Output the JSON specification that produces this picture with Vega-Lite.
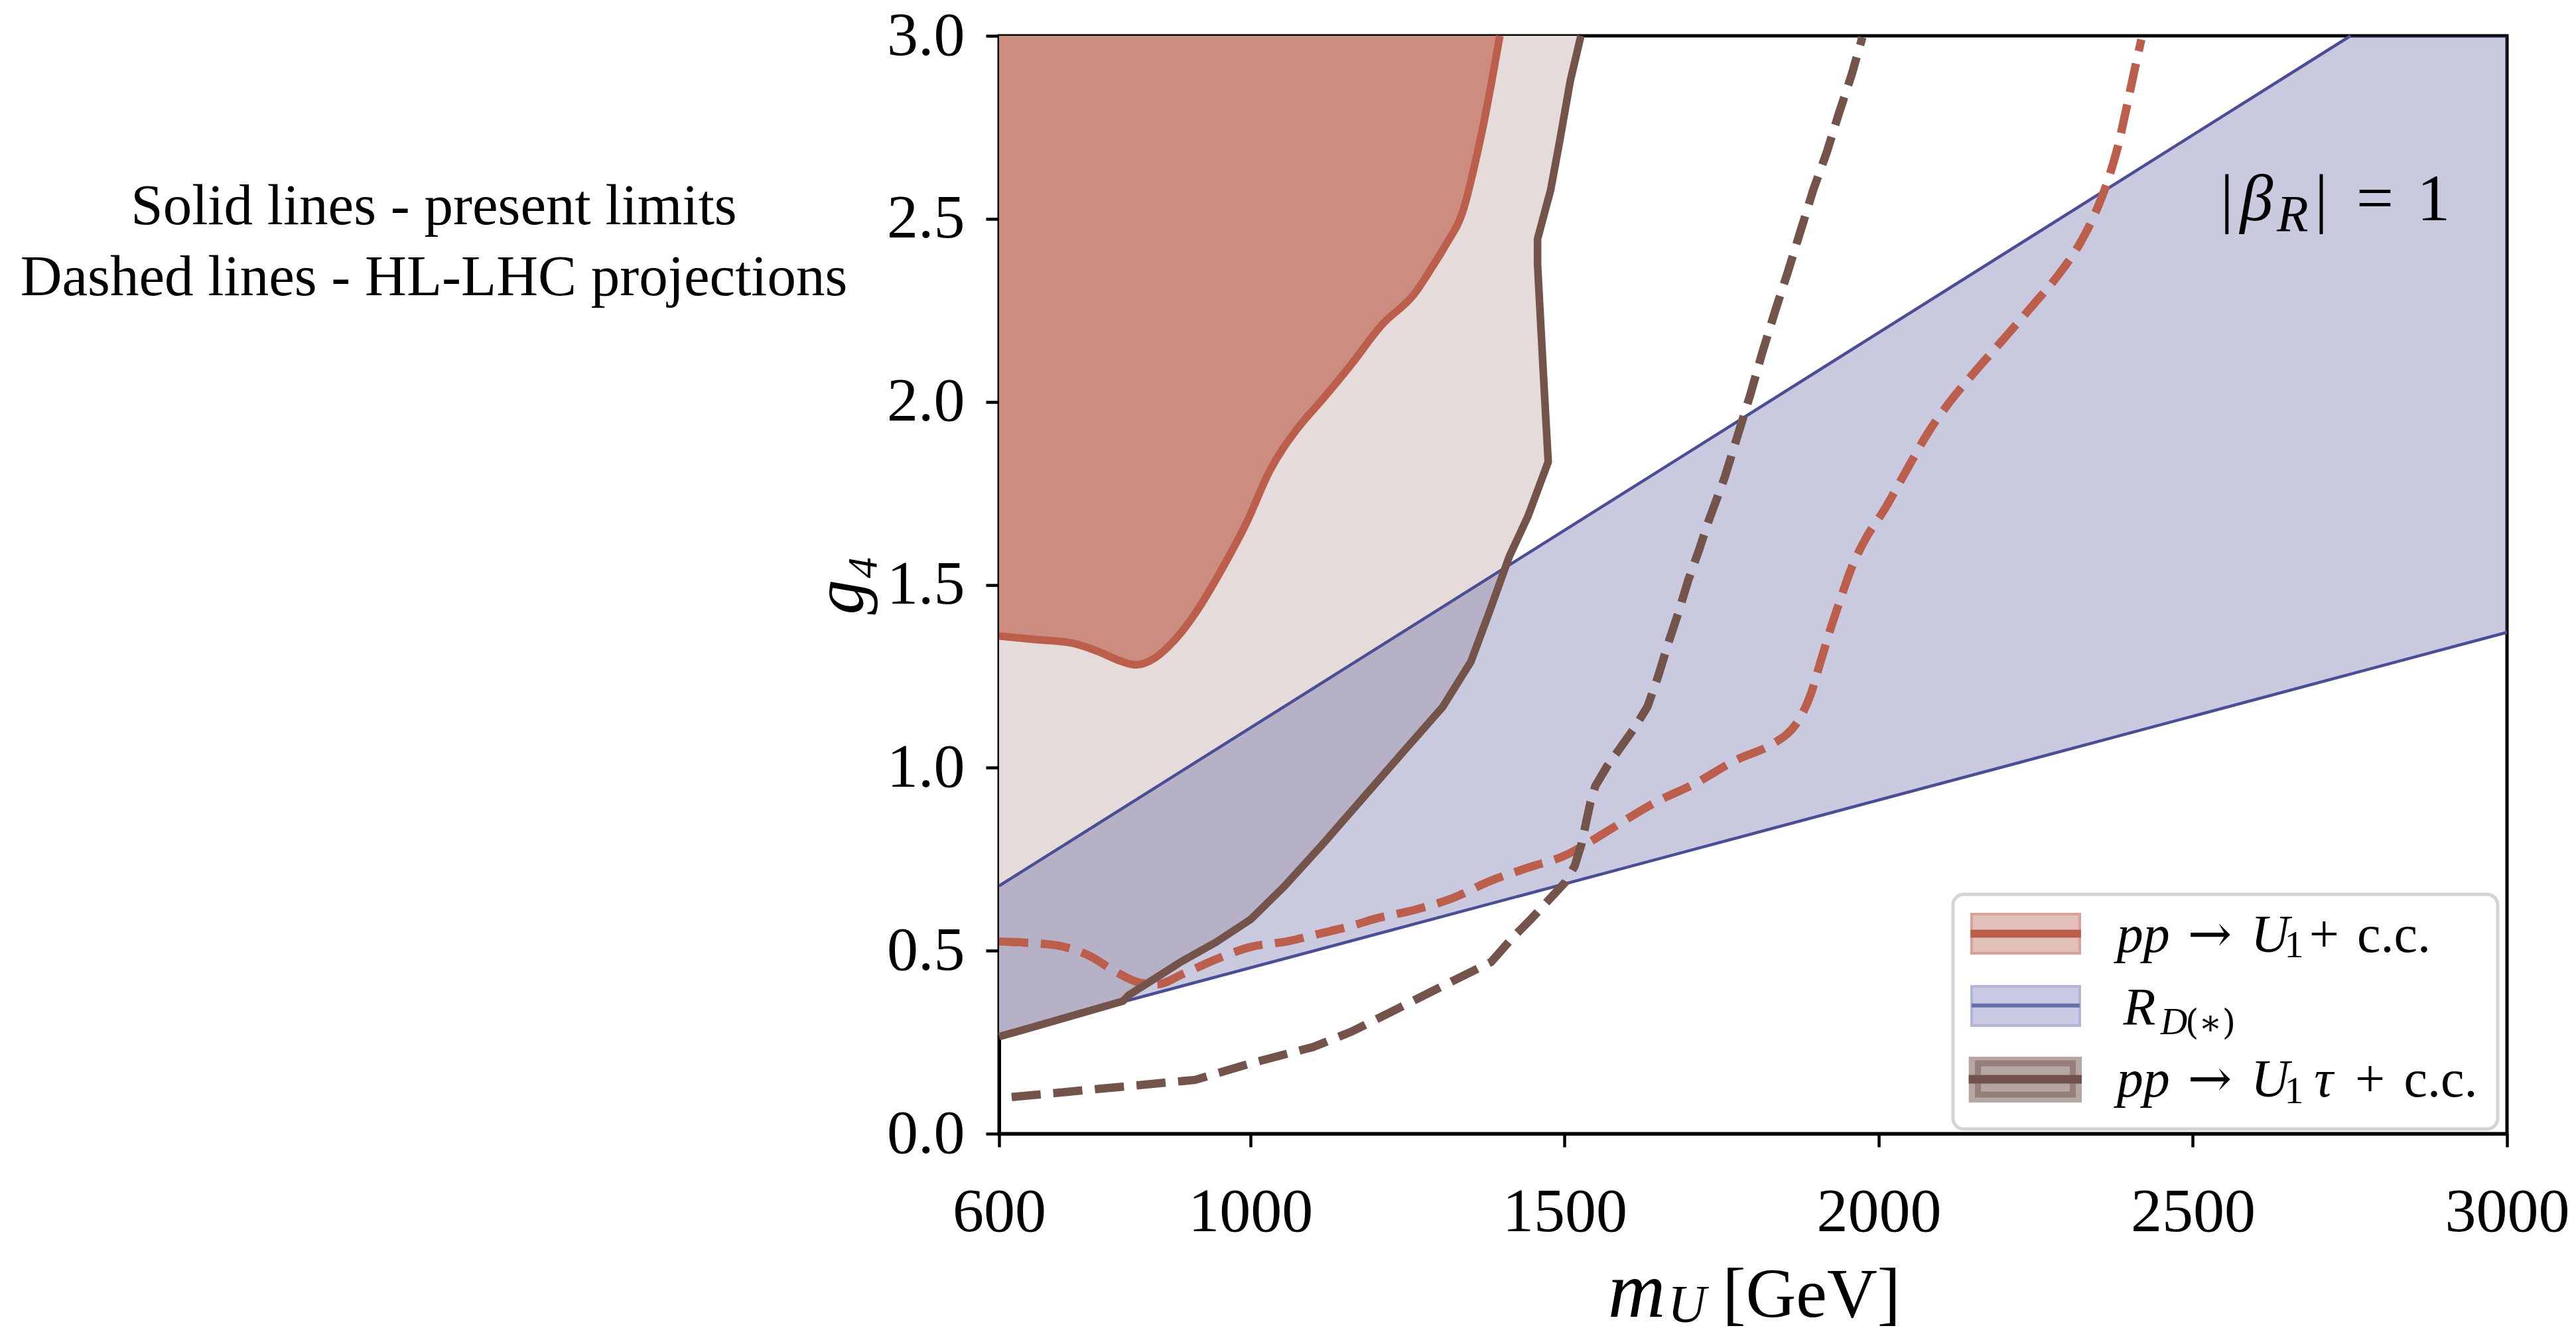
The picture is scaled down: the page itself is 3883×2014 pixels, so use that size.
{
  "$schema": "https://vega.github.io/schema/vega-lite/v6.json",
  "width": 2273,
  "height": 1655,
  "autosize": {"type": "none"},
  "padding": {"left": 1506, "top": 54, "right": 104, "bottom": 305},
  "background": "white",
  "config": {
    "view": {"stroke": "black", "strokeWidth": 5},
    "axis": {"domainColor": "black", "domainWidth": 5, "tickColor": "black", "tickWidth": 4.5, "tickSize": 20, "labelFont": "Liberation Serif", "labelFontSize": 94, "labelColor": "black", "labelLimit": 600, "grid": false, "labelFlush": false, "labelOverlap": false, "titleFont": "Liberation Serif", "titleColor": "black", "titleFontWeight": "normal"},
    "text": {"font": "Liberation Serif", "color": "black", "align": "center", "baseline": "alphabetic"}
  },
  "datasets": {
    "curves": [
      {"s": "redSolid", "m": 600, "g": 1.36}, {"s": "redSolid", "m": 654, "g": 1.351}, {"s": "redSolid", "m": 715, "g": 1.341}, {"s": "redSolid", "m": 757, "g": 1.318}, {"s": "redSolid", "m": 794, "g": 1.291}, {"s": "redSolid", "m": 818, "g": 1.281}, {"s": "redSolid", "m": 848, "g": 1.30}, {"s": "redSolid", "m": 878, "g": 1.346}, {"s": "redSolid", "m": 915, "g": 1.429}, {"s": "redSolid", "m": 957, "g": 1.55}, {"s": "redSolid", "m": 994, "g": 1.67}, {"s": "redSolid", "m": 1030, "g": 1.809}, {"s": "redSolid", "m": 1074, "g": 1.925}, {"s": "redSolid", "m": 1114, "g": 2.005}, {"s": "redSolid", "m": 1161, "g": 2.103}, {"s": "redSolid", "m": 1208, "g": 2.208}, {"s": "redSolid", "m": 1262, "g": 2.297}, {"s": "redSolid", "m": 1290, "g": 2.37}, {"s": "redSolid", "m": 1310, "g": 2.426}, {"s": "redSolid", "m": 1340, "g": 2.531}, {"s": "redSolid", "m": 1356, "g": 2.64}, {"s": "redSolid", "m": 1370, "g": 2.75}, {"s": "redSolid", "m": 1384, "g": 2.875}, {"s": "redSolid", "m": 1397, "g": 3.0},
      {"s": "brownSolid", "g": 0.265, "m": 600}, {"s": "brownSolid", "g": 0.362, "m": 797}, {"s": "brownSolid", "g": 0.378, "m": 806}, {"s": "brownSolid", "g": 0.47, "m": 890}, {"s": "brownSolid", "g": 0.523, "m": 945}, {"s": "brownSolid", "g": 0.585, "m": 1000}, {"s": "brownSolid", "g": 0.676, "m": 1054}, {"s": "brownSolid", "g": 0.791, "m": 1115}, {"s": "brownSolid", "g": 0.921, "m": 1181}, {"s": "brownSolid", "g": 1.041, "m": 1242}, {"s": "brownSolid", "g": 1.166, "m": 1306}, {"s": "brownSolid", "g": 1.29, "m": 1351}, {"s": "brownSolid", "g": 1.429, "m": 1381}, {"s": "brownSolid", "g": 1.577, "m": 1412}, {"s": "brownSolid", "g": 1.688, "m": 1442}, {"s": "brownSolid", "g": 1.836, "m": 1474}, {"s": "brownSolid", "g": 2.054, "m": 1467}, {"s": "brownSolid", "g": 2.376, "m": 1457}, {"s": "brownSolid", "g": 2.445, "m": 1457}, {"s": "brownSolid", "g": 2.58, "m": 1478}, {"s": "brownSolid", "g": 2.71, "m": 1492}, {"s": "brownSolid", "g": 2.876, "m": 1509}, {"s": "brownSolid", "g": 3.0, "m": 1526},
      {"s": "redDash", "m": 600, "g": 0.525}, {"s": "redDash", "m": 690, "g": 0.515}, {"s": "redDash", "m": 715, "g": 0.505}, {"s": "redDash", "m": 744, "g": 0.486}, {"s": "redDash", "m": 784, "g": 0.444}, {"s": "redDash", "m": 825, "g": 0.412}, {"s": "redDash", "m": 851, "g": 0.408}, {"s": "redDash", "m": 892, "g": 0.436}, {"s": "redDash", "m": 946, "g": 0.477}, {"s": "redDash", "m": 1000, "g": 0.51}, {"s": "redDash", "m": 1060, "g": 0.526}, {"s": "redDash", "m": 1109, "g": 0.546}, {"s": "redDash", "m": 1161, "g": 0.568}, {"s": "redDash", "m": 1200, "g": 0.588}, {"s": "redDash", "m": 1260, "g": 0.611}, {"s": "redDash", "m": 1321, "g": 0.643}, {"s": "redDash", "m": 1381, "g": 0.69}, {"s": "redDash", "m": 1442, "g": 0.727}, {"s": "redDash", "m": 1503, "g": 0.762}, {"s": "redDash", "m": 1535, "g": 0.792}, {"s": "redDash", "m": 1578, "g": 0.837}, {"s": "redDash", "m": 1643, "g": 0.904}, {"s": "redDash", "m": 1708, "g": 0.957}, {"s": "redDash", "m": 1772, "g": 1.02}, {"s": "redDash", "m": 1832, "g": 1.066}, {"s": "redDash", "m": 1859, "g": 1.10}, {"s": "redDash", "m": 1875, "g": 1.137}, {"s": "redDash", "m": 1891, "g": 1.197}, {"s": "redDash", "m": 1907, "g": 1.287}, {"s": "redDash", "m": 1923, "g": 1.378}, {"s": "redDash", "m": 1939, "g": 1.46}, {"s": "redDash", "m": 1956, "g": 1.543}, {"s": "redDash", "m": 1977, "g": 1.619}, {"s": "redDash", "m": 2011, "g": 1.711}, {"s": "redDash", "m": 2044, "g": 1.812}, {"s": "redDash", "m": 2078, "g": 1.914}, {"s": "redDash", "m": 2112, "g": 1.997}, {"s": "redDash", "m": 2152, "g": 2.08}, {"s": "redDash", "m": 2199, "g": 2.172}, {"s": "redDash", "m": 2246, "g": 2.265}, {"s": "redDash", "m": 2287, "g": 2.349}, {"s": "redDash", "m": 2320, "g": 2.432}, {"s": "redDash", "m": 2347, "g": 2.525}, {"s": "redDash", "m": 2367, "g": 2.617}, {"s": "redDash", "m": 2381, "g": 2.70}, {"s": "redDash", "m": 2394, "g": 2.80}, {"s": "redDash", "m": 2408, "g": 2.913}, {"s": "redDash", "m": 2418, "g": 2.99},
      {"s": "brownDash", "m": 620, "g": 0.10}, {"s": "brownDash", "m": 912, "g": 0.147}, {"s": "brownDash", "m": 1000, "g": 0.192}, {"s": "brownDash", "m": 1100, "g": 0.237}, {"s": "brownDash", "m": 1161, "g": 0.279}, {"s": "brownDash", "m": 1229, "g": 0.337}, {"s": "brownDash", "m": 1296, "g": 0.395}, {"s": "brownDash", "m": 1383, "g": 0.469}, {"s": "brownDash", "m": 1417, "g": 0.535}, {"s": "brownDash", "m": 1448, "g": 0.589}, {"s": "brownDash", "m": 1501, "g": 0.687}, {"s": "brownDash", "m": 1516, "g": 0.731}, {"s": "brownDash", "m": 1527, "g": 0.792}, {"s": "brownDash", "m": 1541, "g": 0.904}, {"s": "brownDash", "m": 1549, "g": 0.95}, {"s": "brownDash", "m": 1567, "g": 1.002}, {"s": "brownDash", "m": 1589, "g": 1.055}, {"s": "brownDash", "m": 1611, "g": 1.108}, {"s": "brownDash", "m": 1632, "g": 1.167}, {"s": "brownDash", "m": 1649, "g": 1.25}, {"s": "brownDash", "m": 1665, "g": 1.34}, {"s": "brownDash", "m": 1681, "g": 1.423}, {"s": "brownDash", "m": 1697, "g": 1.513}, {"s": "brownDash", "m": 1714, "g": 1.595}, {"s": "brownDash", "m": 1730, "g": 1.678}, {"s": "brownDash", "m": 1743, "g": 1.738}, {"s": "brownDash", "m": 1755, "g": 1.794}, {"s": "brownDash", "m": 1775, "g": 1.905}, {"s": "brownDash", "m": 1795, "g": 2.016}, {"s": "brownDash", "m": 1815, "g": 2.136}, {"s": "brownDash", "m": 1835, "g": 2.247}, {"s": "brownDash", "m": 1856, "g": 2.358}, {"s": "brownDash", "m": 1876, "g": 2.469}, {"s": "brownDash", "m": 1896, "g": 2.58}, {"s": "brownDash", "m": 1917, "g": 2.68}, {"s": "brownDash", "m": 1937, "g": 2.79}, {"s": "brownDash", "m": 1957, "g": 2.894}, {"s": "brownDash", "m": 1974, "g": 2.996}
    ],
    "band": [
      {"m": 600, "lo": 0.27, "hi": 0.677},
      {"m": 2751, "lo": 1.256, "hi": 3.0},
      {"m": 3000, "lo": 1.37, "hi": 3.0}
    ],
    "blueLines": [
      {"s": "upper", "m": 600, "g": 0.677}, {"s": "upper", "m": 2751, "g": 3.0},
      {"s": "lower", "m": 600, "g": 0.27}, {"s": "lower", "m": 3000, "g": 1.37}
    ]
  },
  "layer": [
    {
      "data": {"name": "curves"},
      "transform": [{"filter": "datum.s === 'brownSolid'"}],
      "mark": {"type": "area", "orient": "horizontal", "color": "#e4dbda"},
      "encoding": {
        "y": {"field": "g", "type": "quantitative", "scale": {"domain": [0, 3], "nice": false, "zero": false},
              "axis": {"values": [0, 0.5, 1, 1.5, 2, 2.5, 3], "format": ".1f", "labelPadding": 32, "title": "g₄", "titleFontSize": 105, "titleFontStyle": "italic", "titlePadding": 15}},
        "x": {"field": "m", "type": "quantitative", "scale": {"domain": [600, 3000], "nice": false, "zero": false},
              "axis": {"values": [600, 1000, 1500, 2000, 2500, 3000], "format": "d", "labelPadding": 52, "title": null}},
        "x2": {"datum": 600}
      }
    },
    {
      "data": {"name": "band"},
      "mark": {"type": "area", "color": "#4c4f98", "opacity": 0.3},
      "encoding": {
        "x": {"field": "m", "type": "quantitative"},
        "y": {"field": "lo", "type": "quantitative"},
        "y2": {"field": "hi"}
      }
    },
    {
      "data": {"name": "curves"},
      "transform": [{"filter": "datum.s === 'redSolid'"}],
      "mark": {"type": "area", "color": "#cd8c80", "interpolate": "monotone"},
      "encoding": {
        "x": {"field": "m", "type": "quantitative"},
        "y": {"field": "g", "type": "quantitative"},
        "y2": {"datum": 3}
      }
    },
    {
      "data": {"name": "blueLines"},
      "mark": {"type": "line", "color": "#4a4e95", "strokeWidth": 4.5},
      "encoding": {
        "x": {"field": "m", "type": "quantitative"},
        "y": {"field": "g", "type": "quantitative"},
        "detail": {"field": "s"},
        "order": {"field": "m"}
      }
    },
    {
      "data": {"name": "curves"},
      "transform": [{"filter": "datum.s === 'redSolid'"}],
      "mark": {"type": "line", "color": "#bb5f4c", "strokeWidth": 11.5, "strokeJoin": "round", "interpolate": "monotone"},
      "encoding": {
        "x": {"field": "m", "type": "quantitative"},
        "y": {"field": "g", "type": "quantitative"},
        "order": {"field": "m"}
      }
    },
    {
      "data": {"name": "curves"},
      "transform": [{"filter": "datum.s === 'redDash'"}],
      "mark": {"type": "line", "color": "#bb5f4c", "strokeWidth": 12.5, "strokeDash": [44, 19], "interpolate": "monotone"},
      "encoding": {
        "x": {"field": "m", "type": "quantitative"},
        "y": {"field": "g", "type": "quantitative"},
        "order": {"field": "m"}
      }
    },
    {
      "data": {"name": "curves"},
      "transform": [{"filter": "datum.s === 'brownSolid'"}],
      "mark": {"type": "line", "color": "#74534b", "strokeWidth": 11.5, "strokeJoin": "round"},
      "encoding": {
        "x": {"field": "m", "type": "quantitative"},
        "y": {"field": "g", "type": "quantitative"},
        "order": {"field": "g"}
      }
    },
    {
      "data": {"name": "curves"},
      "transform": [{"filter": "datum.s === 'brownDash'"}],
      "mark": {"type": "line", "color": "#74534b", "strokeWidth": 12.5, "strokeDash": [44, 19]},
      "encoding": {
        "x": {"field": "m", "type": "quantitative"},
        "y": {"field": "g", "type": "quantitative"},
        "order": {"field": "m"}
      }
    },
    {
      "data": {"values": [{}]},
      "mark": {"type": "rect", "fill": "white", "stroke": "#d4d4d4", "strokeWidth": 5, "cornerRadius": 16},
      "encoding": {"x": {"datum": 2118.3}, "x2": {"datum": 2985.2}, "y": {"datum": 0.654}, "y2": {"datum": 0.0127}}
    },
    {
      "data": {"values": [{}]},
      "mark": {"type": "rect", "fill": "#e2bfb9", "stroke": "#d9a197", "strokeWidth": 4},
      "encoding": {"x": {"datum": 2147.9}, "x2": {"datum": 2320}, "y": {"datum": 0.600}, "y2": {"datum": 0.493}}
    },
    {
      "data": {"values": [{}]},
      "mark": {"type": "rule", "color": "#bb5f4c", "strokeWidth": 12},
      "encoding": {"x": {"datum": 2146}, "x2": {"datum": 2322}, "y": {"datum": 0.5465}}
    },
    {
      "data": {"values": [{}]},
      "mark": {"type": "rect", "fill": "#c9cae3", "stroke": "#b3b5d8", "strokeWidth": 4},
      "encoding": {"x": {"datum": 2147.9}, "x2": {"datum": 2320}, "y": {"datum": 0.4024}, "y2": {"datum": 0.2955}}
    },
    {
      "data": {"values": [{}]},
      "mark": {"type": "rule", "color": "#6a6ea8", "strokeWidth": 6},
      "encoding": {"x": {"datum": 2147.9}, "x2": {"datum": 2320}, "y": {"datum": 0.3502}}
    },
    {
      "data": {"values": [{}]},
      "mark": {"type": "rect", "fill": "#b6a6a2"},
      "encoding": {"x": {"datum": 2143.3}, "x2": {"datum": 2323.2}, "y": {"datum": 0.2103}, "y2": {"datum": 0.0852}}
    },
    {
      "data": {"values": [{}]},
      "mark": {"type": "rect", "fillOpacity": 0, "stroke": "#967f7a", "strokeWidth": 9},
      "encoding": {"x": {"datum": 2158}, "x2": {"datum": 2309}, "y": {"datum": 0.192}, "y2": {"datum": 0.107}}
    },
    {
      "data": {"values": [{}]},
      "mark": {"type": "rule", "color": "#73524b", "strokeWidth": 13},
      "encoding": {"x": {"datum": 2143.3}, "x2": {"datum": 2323.2}, "y": {"datum": 0.1486}}
    },
    {"data": {"values": [{}]}, "mark": {"type": "text", "text": "pp", "fontSize": 80, "fontStyle": "italic"}, "encoding": {"x": {"datum": 2421.1}, "y": {"datum": 0.4966}}},
    {"data": {"values": [{}]}, "mark": {"type": "text", "text": "→", "fontSize": 80, "font": "DejaVu Serif"}, "encoding": {"x": {"datum": 2526.9}, "y": {"datum": 0.4966}}},
    {"data": {"values": [{}]}, "mark": {"type": "text", "text": "U", "fontSize": 80, "fontStyle": "italic"}, "encoding": {"x": {"datum": 2623}, "y": {"datum": 0.4966}}},
    {"data": {"values": [{}]}, "mark": {"type": "text", "text": "1", "fontSize": 58}, "encoding": {"x": {"datum": 2661}, "y": {"datum": 0.4816}}},
    {"data": {"values": [{}]}, "mark": {"type": "text", "text": "+", "fontSize": 80}, "encoding": {"x": {"datum": 2709}, "y": {"datum": 0.4966}}},
    {"data": {"values": [{}]}, "mark": {"type": "text", "text": "c.c.", "fontSize": 80}, "encoding": {"x": {"datum": 2820}, "y": {"datum": 0.4966}}},
    {"data": {"values": [{}]}, "mark": {"type": "text", "text": "R", "fontSize": 80, "fontStyle": "italic"}, "encoding": {"x": {"datum": 2415}, "y": {"datum": 0.2973}}},
    {"data": {"values": [{}]}, "mark": {"type": "text", "text": "D", "fontSize": 56, "fontStyle": "italic"}, "encoding": {"x": {"datum": 2470}, "y": {"datum": 0.272}}},
    {"data": {"values": [{}]}, "mark": {"type": "text", "text": "(∗)", "fontSize": 52, "font": "DejaVu Serif"}, "encoding": {"x": {"datum": 2528}, "y": {"datum": 0.272}}},
    {"data": {"values": [{}]}, "mark": {"type": "text", "text": "pp", "fontSize": 80, "fontStyle": "italic"}, "encoding": {"x": {"datum": 2421.1}, "y": {"datum": 0.1015}}},
    {"data": {"values": [{}]}, "mark": {"type": "text", "text": "→", "fontSize": 80, "font": "DejaVu Serif"}, "encoding": {"x": {"datum": 2526.9}, "y": {"datum": 0.1015}}},
    {"data": {"values": [{}]}, "mark": {"type": "text", "text": "U", "fontSize": 80, "fontStyle": "italic"}, "encoding": {"x": {"datum": 2623}, "y": {"datum": 0.1015}}},
    {"data": {"values": [{}]}, "mark": {"type": "text", "text": "1", "fontSize": 58}, "encoding": {"x": {"datum": 2661}, "y": {"datum": 0.0834}}},
    {"data": {"values": [{}]}, "mark": {"type": "text", "text": "τ", "fontSize": 80, "fontStyle": "italic"}, "encoding": {"x": {"datum": 2708.2}, "y": {"datum": 0.1015}}},
    {"data": {"values": [{}]}, "mark": {"type": "text", "text": "+", "fontSize": 80}, "encoding": {"x": {"datum": 2782}, "y": {"datum": 0.1015}}},
    {"data": {"values": [{}]}, "mark": {"type": "text", "text": "c.c.", "fontSize": 80}, "encoding": {"x": {"datum": 2894.4}, "y": {"datum": 0.1015}}},
    {"data": {"values": [{}]}, "mark": {"type": "text", "text": "|", "fontSize": 100}, "encoding": {"x": {"datum": 2554.2}, "y": {"datum": 2.496}}},
    {"data": {"values": [{}]}, "mark": {"type": "text", "text": "β", "fontSize": 100, "fontStyle": "italic"}, "encoding": {"x": {"datum": 2601.4}, "y": {"datum": 2.496}}},
    {"data": {"values": [{}]}, "mark": {"type": "text", "text": "R", "fontSize": 78, "fontStyle": "italic"}, "encoding": {"x": {"datum": 2658.8}, "y": {"datum": 2.467}}},
    {"data": {"values": [{}]}, "mark": {"type": "text", "text": "|", "fontSize": 100}, "encoding": {"x": {"datum": 2704.3}, "y": {"datum": 2.496}}},
    {"data": {"values": [{}]}, "mark": {"type": "text", "text": "=", "fontSize": 100}, "encoding": {"x": {"datum": 2789.8}, "y": {"datum": 2.496}}},
    {"data": {"values": [{}]}, "mark": {"type": "text", "text": "1", "fontSize": 100}, "encoding": {"x": {"datum": 2883.1}, "y": {"datum": 2.496}}},
    {"data": {"values": [{}]}, "mark": {"type": "text", "text": "m", "fontSize": 120, "fontStyle": "italic"}, "encoding": {"x": {"datum": 1614.7}, "y": {"datum": -0.5003}}},
    {"data": {"values": [{}]}, "mark": {"type": "text", "text": "U", "fontSize": 80, "fontStyle": "italic"}, "encoding": {"x": {"datum": 1694.9}, "y": {"datum": -0.515}}},
    {"data": {"values": [{}]}, "mark": {"type": "text", "text": "[GeV]", "fontSize": 105}, "encoding": {"x": {"datum": 1893.0}, "y": {"datum": -0.5003}}},
    {"data": {"values": [{}]}, "mark": {"type": "text", "text": "Solid lines - present limits", "fontSize": 87}, "encoding": {"x": {"datum": -299.6}, "y": {"datum": 2.485}}},
    {"data": {"values": [{}]}, "mark": {"type": "text", "text": "Dashed lines - HL-LHC projections", "fontSize": 87}, "encoding": {"x": {"datum": -299.6}, "y": {"datum": 2.291}}}
  ]
}
